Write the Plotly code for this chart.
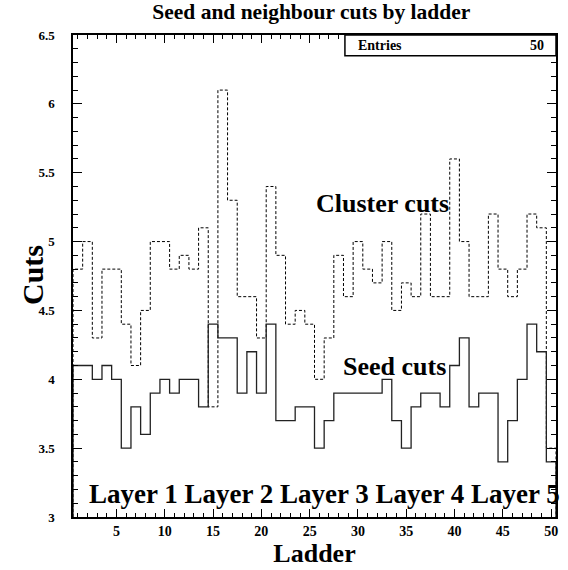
import plotly.graph_objects as go

ladders = list(range(1, 51))
seed_cuts = [4.1, 4.1, 4.0, 4.1, 4.0, 3.5, 3.8, 3.6, 3.9, 4.0,
             3.9, 4.0, 4.0, 3.8, 4.4, 4.3, 4.3, 3.9, 4.2, 3.9,
             4.4, 3.7, 3.7, 3.8, 3.8, 3.5, 3.7, 3.9, 3.9, 3.9,
             3.9, 3.9, 4.0, 3.7, 3.5, 3.8, 3.9, 3.9, 3.8, 4.1,
             4.3, 3.8, 3.9, 3.9, 3.4, 3.7, 4.0, 4.4, 4.2, 3.4]
cluster_cuts = [4.8, 5.0, 4.3, 4.8, 4.8, 4.4, 4.1, 4.5, 5.0, 5.0,
                4.8, 4.9, 4.8, 5.1, 3.8, 6.1, 5.3, 4.6, 4.6, 4.3,
                5.4, 4.9, 4.4, 4.5, 4.4, 4.0, 4.3, 4.9, 4.6, 5.0,
                4.8, 4.7, 5.0, 4.5, 4.7, 4.6, 5.2, 4.6, 4.6, 5.6,
                5.0, 4.6, 4.6, 5.2, 4.8, 4.6, 4.8, 5.2, 5.1, 3.5]
x_ticks = [5, 10, 15, 20, 25, 30, 35, 40, 45, 50]
y_ticks = [3, 3.5, 4, 4.5, 5, 5.5, 6, 6.5]
y_min, y_max = 3.0, 6.5
x_lo, x_hi = ladders[0] - 0.5, ladders[-1] + 0.5

FONT = "Liberation Serif"


def step_outline(vals):
    xs = [x_lo] + [l - 0.5 for l in ladders] + [x_hi]
    ys = [y_min] + list(vals) + [y_min]
    return xs, ys


fig = go.Figure()
cx, cy = step_outline(cluster_cuts)
fig.add_trace(go.Scatter(x=cx, y=cy, mode="lines", line_shape="hv",
                         line=dict(color="black", width=1, dash="3px,2px"),
                         showlegend=False, hoverinfo="skip"))
sx, sy = step_outline(seed_cuts)
fig.add_trace(go.Scatter(x=sx, y=sy, mode="lines", line_shape="hv",
                         line=dict(color="#222222", width=1.3),
                         showlegend=False, hoverinfo="skip"))

bold = dict(family=FONT, color="black", size=26, weight="bold")

fig.add_annotation(x=25.4, y=5.28, text="Cluster cuts", showarrow=False,
                   xanchor="left", yanchor="middle", font=bold)
fig.add_annotation(x=28.2, y=4.09, text="Seed cuts", showarrow=False,
                   xanchor="left", yanchor="middle", font=bold)
fig.add_annotation(x=2.0, y=3.17, text="Layer 1 Layer 2 Layer 3 Layer 4 Layer 5",
                   showarrow=False, xanchor="left", yanchor="middle",
                   font=dict(bold, size=27))

# y-axis title placed like ROOT's
fig.add_annotation(xref="paper", yref="paper", x=-0.085, y=0.502, text="Cuts",
                   textangle=-90, showarrow=False, xanchor="center", yanchor="middle",
                   font=dict(family=FONT, size=30, color="black", weight="bold"))

# stats box
fig.add_shape(type="rect", xref="paper", yref="paper", x0=0.563, x1=1.0,
              y0=0.957, y1=1.0, line=dict(color="black", width=1.5),
              fillcolor="white", layer="above")
fig.add_annotation(xref="paper", yref="paper", x=0.585, y=0.9785, text="Entries",
                   showarrow=False, xanchor="left", yanchor="middle",
                   font=dict(family=FONT, size=14, color="black", weight="bold"))
fig.add_annotation(xref="paper", yref="paper", x=0.98, y=0.9785, text=str(len(ladders)),
                   showarrow=False, xanchor="right", yanchor="middle",
                   font=dict(family=FONT, size=14, color="black", weight="bold"))

axis_common = dict(showgrid=False, zeroline=False, showline=True, linecolor="black",
                   linewidth=1.5, mirror="ticks", ticks="inside", tickcolor="black",
                   automargin=False)

fig.update_xaxes(range=[x_lo, x_hi], tickvals=x_ticks, ticklen=8, tickwidth=1,
                 tickfont=dict(family=FONT, size=14, color="black", weight="bold"),
                 minor=dict(dtick=1, tick0=0, ticklen=4, ticks="inside", tickcolor="black", tickwidth=1),
                 title=dict(text="Ladder", standoff=0,
                            font=dict(family=FONT, size=26, color="black", weight="bold")),
                 **axis_common)
fig.update_yaxes(range=[y_min, y_max], tickvals=y_ticks,
                 ticktext=[f"{v:g}" for v in y_ticks], ticklen=9, tickwidth=1,
                 ticklabelstandoff=14,
                 tickfont=dict(family=FONT, size=13, color="black", weight="bold"),
                 minor=dict(dtick=0.1, tick0=3, ticklen=5, ticks="inside", tickcolor="black", tickwidth=1),
                 **axis_common)

fig.update_layout(
    width=568, height=570,
    margin=dict(l=73, r=12, t=35, b=53),
    paper_bgcolor="white", plot_bgcolor="white",
    title=dict(text="Seed and neighbour cuts by ladder", x=0.548, xanchor="center",
               y=1 - 11 / 570, yanchor="middle",
               font=dict(family=FONT, size=21.5, color="black", weight="bold")),
)

fig.write_html("out.html", config={"displayModeBar": False},
               post_script="document.body.style.margin='0';")
